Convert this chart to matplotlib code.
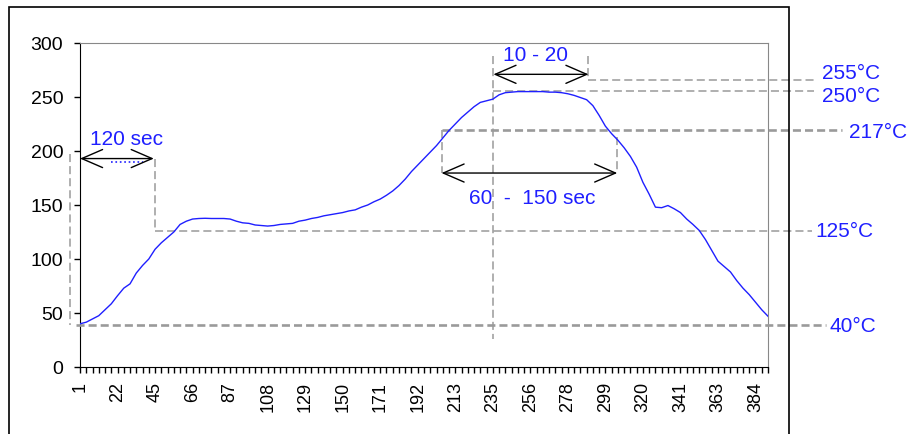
import matplotlib
matplotlib.use("Agg")
import matplotlib.pyplot as plt
from matplotlib.patches import Rectangle
import numpy as np

plt.rcParams['font.family'] = ['Liberation Sans', 'DejaVu Sans']

# temperature profile, one reading per minor tick of the category axis
temps = [40, 41.5, 44.5, 47.5, 53, 58.5, 66, 73, 77, 87,
         94, 100, 109, 115, 120, 125, 132, 135, 137, 137.5,
         137.7, 137.5, 137.5, 137.5, 137, 135, 133.5, 133, 131.5, 131,
         130.5, 131, 132, 132.5, 133, 135, 136, 137.5, 138.5, 140,
         141, 142, 143, 144.5, 145.5, 148, 150, 153, 155.5, 159,
         163, 168, 174, 181, 187, 193, 199, 205, 212, 219,
         225, 231, 236, 241, 245, 246.5, 248, 252, 254, 254.5,
         255, 255, 255, 255, 255, 254.5, 254.5, 254, 253, 251.5,
         249.5, 247.5, 242, 233, 223, 216, 210, 203, 195, 185,
         171, 160, 148, 147.5, 149.5, 146.5, 143, 137, 132, 126.5,
         118, 108, 98, 93, 88, 80, 73, 67, 60, 53, 47]
sample_idx = np.arange(len(temps))

tick_labels = ['1', '22', '45', '66', '87', '108', '129', '150', '171', '192',
               '213', '235', '256', '278', '299', '320', '341', '363', '384']
label_step = 6

# reference levels (value, label text, start x, end x, thick)
levels = [(39, '40°C', -0.6, 119.2, True),
          (126, '125°C', 12, 117.1, False),
          (219.4, '217°C', 57.8, 121.9, True),
          (255.3, '250°C', 66.1, 117.3, False),
          (265.7, '255°C', 81.3, 117.3, False)]
level_label_pos = [(119.8, 38), (117.6, 126), (122.9, 217.6), (118.7, 251), (118.7, 273)]

blue = '#1f1fff'
grey = '#9a9a9a'

fig = plt.figure(figsize=(9.13, 4.35), dpi=100)
ax = fig.add_axes([80 / 913, 1 - 368 / 435, 688 / 913, 324 / 435])

fig.patches.append(Rectangle((9 / 913, -0.05), 780 / 913, 1 - 8 / 435 + 0.05,
                             transform=fig.transFigure, fill=False,
                             edgecolor='black', linewidth=1.2))

ax.plot(sample_idx, temps, color=blue, linewidth=1.0, zorder=5)

ax.set_xlim(0, len(temps) - 1)
ax.set_ylim(0, 300)
ax.set_yticks(range(0, 301, 50))
ax.set_xticks(np.arange(0, label_step * len(tick_labels), label_step))
ax.set_xticklabels(tick_labels, rotation=90)
ax.set_xticks(np.arange(0, len(temps)), minor=True)
ax.tick_params(axis='both', which='both', direction='out', length=4, width=1,
               colors='black')
ax.tick_params(axis='x', which='major', pad=6, labelsize=13)
ax.tick_params(axis='y', which='major', pad=8, labelsize=14)
for side in ['top', 'right']:
    ax.spines[side].set_color('#888888')
for side in ['left', 'bottom']:
    ax.spines[side].set_color('black')


def dline(xs, ys, thick=False):
    lw = 1.9 if thick else 1.1
    ax.plot(xs, ys, color=grey, linestyle=(0, (5.8 / lw, 2.9 / lw)), linewidth=lw,
            clip_on=False, zorder=3)

for (val, txt, x0, x1, thick), (lx, ly) in zip(levels, level_label_pos):
    dline([x0, x1], [val, val], thick)
    ax.text(lx, ly, txt, color=blue, fontsize=15, ha='left', va='center',
            clip_on=False)

# vertical guide lines
dline([-1.6, -1.6], [197, 39])
dline([12, 12], [193, 126])
dline([66.1, 66.1], [288, 26])
dline([81.3, 81.3], [288, 265.7])
dline([57.8, 57.8], [219.4, 179.6])
dline([85.9, 85.9], [213, 179.6])


def darrow(x0, x1, y):
    ax.annotate('', xy=(x1, y), xytext=(x0, y),
                arrowprops=dict(arrowstyle='<->,head_length=1.5,head_width=0.65',
                                color='black', linewidth=1.0, mutation_scale=10,
                                shrinkA=0, shrinkB=0),
                annotation_clip=False, zorder=6)

darrow(0, 11.8, 193)
darrow(66.1, 81.3, 271)
darrow(57.8, 85.9, 179.6)

ax.plot([5, 10], [190, 190], color=blue, linestyle=':', linewidth=1.2)

ax.text(7.5, 212, '120 sec', color=blue, fontsize=15, ha='center', va='center')
ax.text(72.8, 289, '10 - 20', color=blue, fontsize=15, ha='center', va='center')
ax.text(72.3, 156.5, '60  -  150 sec', color=blue, fontsize=15, ha='center',
        va='center')

fig.savefig('out.png', dpi=100)
